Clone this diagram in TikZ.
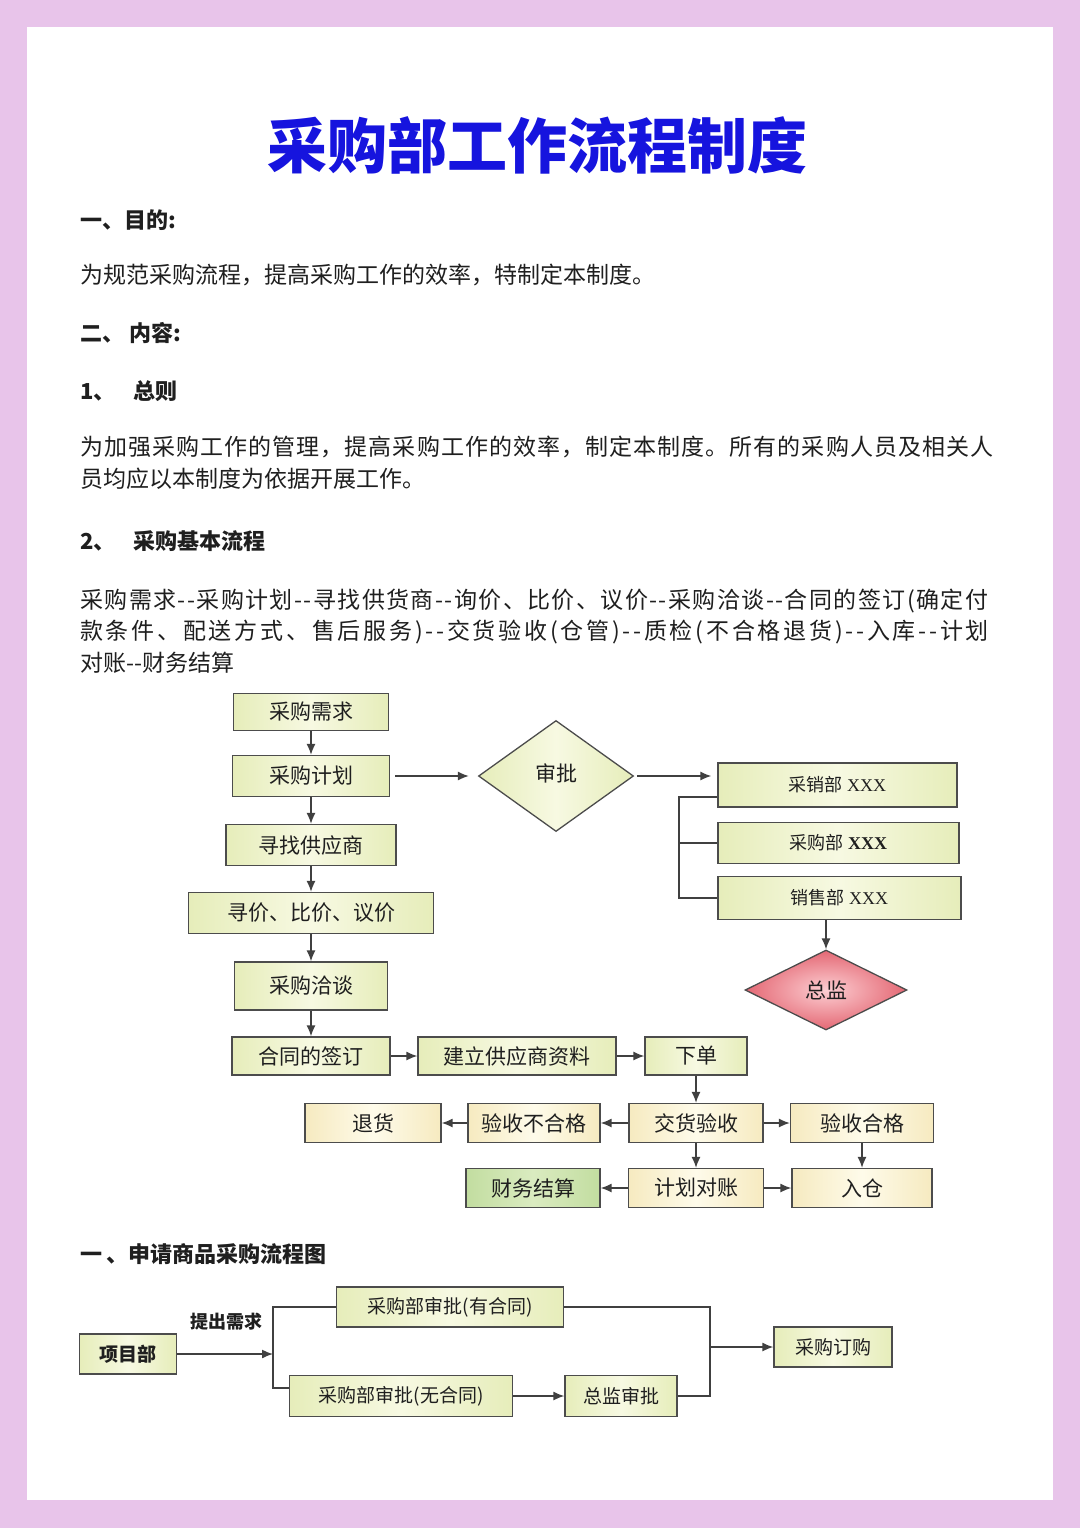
\documentclass[tikz,border=0pt]{standalone}
\usepackage{fontspec}
\setmainfont{Noto Sans CJK SC}
\newfontfamily\xfont{Liberation Serif}
\usetikzlibrary{shapes.geometric,arrows.meta}
\definecolor{pagepink}{RGB}{232,196,234}
\definecolor{titleblue}{RGB}{22,20,222}
\definecolor{boxedge}{RGB}{230,237,186}
\definecolor{boxmid}{RGB}{247,249,226}
\definecolor{creamedge}{RGB}{246,234,192}
\definecolor{creammid}{RGB}{254,251,234}
\definecolor{doneedge}{RGB}{194,221,160}
\definecolor{donemid}{RGB}{218,235,192}
\definecolor{warnedge}{RGB}{228,104,116}
\definecolor{warnmid}{RGB}{252,206,210}

\begin{document}
\begin{tikzpicture}[x=1pt, y=-1pt,
    >={Latex[length=11pt,width=9pt]},
    headtext/.style={anchor=west, inner sep=0pt, text=black!88,
                     font=\fontsize{22}{22}\selectfont\bfseries},
    bodytext/.style={anchor=west, inner sep=0pt, text=black!88,
                     font=\fontsize{23}{23}\selectfont},
    procbox/.style={draw=black!70, line width=1.3pt, inner sep=0pt,
                    minimum height=39pt, text=black!88,
                    left color=boxedge, right color=boxedge, middle color=boxmid,
                    font=\fontsize{21}{21}\selectfont},
    creambox/.style={procbox, left color=creamedge, right color=creamedge,
                     middle color=creammid},
    donebox/.style={procbox, left color=doneedge, right color=doneedge,
                    middle color=donemid},
    deptbox/.style={procbox, font=\fontsize{18}{18}\selectfont},
    reqbox/.style={procbox, font=\fontsize{19}{19}\selectfont},
    decision/.style={diamond, draw=black!70, line width=1.3pt, inner sep=0pt,
                     text=black!88, font=\fontsize{21}{21}\selectfont,
                     left color=boxedge, right color=boxedge, middle color=boxmid},
    flowline/.style={draw=black!75, line width=1.4pt},
    flowarrow/.style={flowline, ->}
]
% page
\fill[pagepink] (0,0) rectangle (1080,1528);
\fill[white] (27,27) rectangle (1053,1500);

\node[inner sep=0pt, text=titleblue, font=\fontsize{60}{60}\selectfont\bfseries]
  (title) at (537,145) {采购部工作流程制度};

\node[headtext] (h1) at (80,220) {一、目的:};
\node[bodytext] (p1) at (80,275) {为规范采购流程，提高采购工作的效率，特制定本制度。};
\node[headtext] (h2) at (80,333) {二、\hspace{5pt}内容:};
\node[headtext] (h3) at (80,391) {1、\hspace{18pt}总则};
\node[bodytext] (p2a) at (80,447)
  {\addfontfeature{LetterSpace=4.6}为加强采购工作的管理，提高采购工作的效率，制定本制度。所有的采购人员及相关人};
\node[bodytext] (p2b) at (80,479) {员均应以本制度为依据开展工作。};
\node[headtext] (h4) at (80,541) {2、\hspace{18pt}采购基本流程};
\node[bodytext] (p3a) at (80,601)
  {\addfontfeature{LetterSpace=6.2}采购需求-{}-采购计划-{}-寻找供货商-{}-询价、比价、议价-{}-采购洽谈-{}-合同的签订(确定付};
\node[bodytext] (p3b) at (80,632)
  {\addfontfeature{LetterSpace=12}款条件、配送方式、售后服务)-{}-交货验收(仓管)-{}-质检(不合格退货)-{}-入库-{}-计划};
\node[bodytext] (p3c) at (80,663) {对账-{}-财务结算};

% main flow
\node[procbox, minimum width=155pt, minimum height=37pt] (xuqiu)   at (311,712)  {采购需求};
\node[procbox, minimum width=157pt, minimum height=41pt] (jihua)   at (311,776)  {采购计划};
\node[procbox, minimum width=170pt, minimum height=41pt] (xunzhao) at (311,845)  {寻找供应商};
\node[procbox, minimum width=245pt, minimum height=41pt] (xunjia)  at (311,913)  {寻价、比价、议价};
\node[procbox, minimum width=153pt, minimum height=48pt] (qiatan)  at (311,986)  {采购洽谈};
\node[procbox, minimum width=158pt, minimum height=38pt] (hetong)  at (311,1056) {合同的签订};
\node[procbox, minimum width=198pt, minimum height=38pt] (jianli)  at (517,1056) {建立供应商资料};
\node[procbox, minimum width=102pt, minimum height=38pt] (xiadan)  at (696,1056) {下单};
\node[creambox, minimum width=134pt] (jiaohuo)  at (696,1123) {交货验收};
\node[creambox, minimum width=132pt] (buhege)   at (534,1123) {验收不合格};
\node[creambox, minimum width=136pt] (tuihuo)   at (373,1123) {退货};
\node[creambox, minimum width=143pt] (hege)     at (862,1123) {验收合格};
\node[creambox, minimum width=135pt] (duizhang) at (696,1188) {计划对账};
\node[donebox,  minimum width=134pt] (jiesuan)  at (533,1188) {财务结算};
\node[creambox, minimum width=140pt] (rucang)   at (862,1188) {入仓};

% approval branch
\node[decision, minimum width=155pt, minimum height=111pt] (shenpi) at (556,776)
  {\raisebox{6pt}{审批}};
\node[deptbox, minimum width=239pt, minimum height=44pt] (caixiao)  at (837.5,785) {采销部 {\xfont XXX}};
\node[deptbox, minimum width=241pt, minimum height=41pt] (caigou)   at (838.5,843) {采购部 {\xfont\bfseries XXX}};
\node[deptbox, minimum width=243pt, minimum height=43pt] (xiaoshou) at (839.5,898) {销售部 {\xfont XXX}};
\node[decision, minimum width=162pt, minimum height=80pt,
      inner color=warnmid, outer color=warnedge] (zongjian) at (826,990) {总监};
\coordinate (brk) at (679,797);

\draw[flowarrow] (xuqiu) -- (jihua);
\draw[flowarrow] (jihua) -- (xunzhao);
\draw[flowarrow] (xunzhao) -- (xunjia);
\draw[flowarrow] (xunjia) -- (qiatan);
\draw[flowarrow] (qiatan) -- (hetong);
\draw[flowarrow] (hetong) -- (jianli);
\draw[flowarrow] (jianli) -- (xiadan);
\draw[flowarrow] (xiadan) -- (jiaohuo);
\draw[flowarrow] (jiaohuo) -- (buhege);
\draw[flowarrow] (buhege) -- (tuihuo);
\draw[flowarrow] (jiaohuo) -- (hege);
\draw[flowarrow] (jiaohuo) -- (duizhang);
\draw[flowarrow] (hege) -- (rucang);
\draw[flowarrow] (duizhang) -- (jiesuan);
\draw[flowarrow] (duizhang) -- (rucang);

\draw[flowarrow, shorten <=5pt, shorten >=9pt] (jihua.east) -- (jihua.east -| shenpi.west);
\draw[flowarrow, shorten <=3pt, shorten >=6pt] (shenpi.east) -- (shenpi.east -| caixiao.west);
\draw[flowline] (caixiao.west |- brk) -- (brk) |- (xiaoshou.west);
\draw[flowline] (brk |- caigou.west) -- (caigou.west);
\draw[flowarrow] (zongjian.north |- xiaoshou.south) -- (zongjian.north);

% request flow
\node[headtext] (h5) at (80,1254) {一\hspace{4pt}、申请商品采购流程图};
\node[reqbox, minimum width=97pt, minimum height=40pt,
      font=\fontsize{19}{19}\selectfont\bfseries] (xiangmu) at (128,1354) {项目部};
\node[inner sep=0pt, text=black!88, font=\fontsize{18}{18}\selectfont\bfseries]
  (tichu) at (226,1322) {提出需求};
\node[reqbox, minimum width=227pt, minimum height=40pt] (youht)   at (450,1307) {采购部审批(有合同)};
\node[reqbox, minimum width=223pt, minimum height=41pt] (wuht)    at (401,1396) {采购部审批(无合同)};
\node[reqbox, minimum width=112pt, minimum height=41pt] (zjsp)    at (621,1396) {总监审批};
\node[reqbox, minimum width=118pt, minimum height=40pt] (dinggou) at (833,1347) {采购订购};
\coordinate (jlt) at (273,1307);
\coordinate (jlb) at (273,1388);
\coordinate (jrt) at (710,1307);
\coordinate (jrb) at (710,1396);

\draw[flowline] (youht.west) -- (jlt) -- (jlb) -- (jlb -| wuht.west);
\draw[flowarrow] (xiangmu.east) -- (xiangmu.east -| jlt);
\draw[flowarrow] (wuht) -- (zjsp);
\draw[flowline] (youht.east) -- (jrt) -- (jrb) -- (zjsp.east);
\draw[flowarrow] (dinggou.west -| jrt) -- (dinggou.west);

\end{tikzpicture}
\end{document}
